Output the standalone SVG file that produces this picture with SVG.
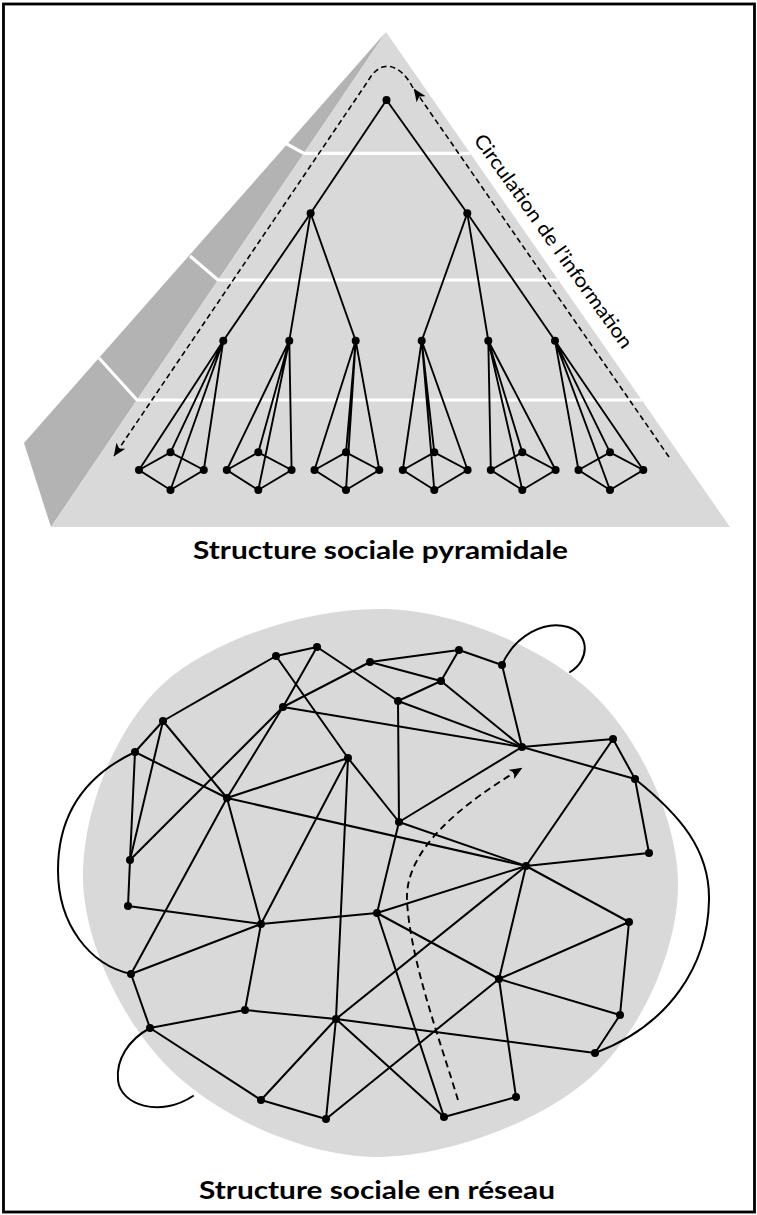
<svg xmlns="http://www.w3.org/2000/svg" width="757" height="1215" viewBox="0 0 757 1215">
<style>
.e{stroke:#000;stroke-width:2;fill:none;stroke-linecap:round}
.t{stroke:#000;stroke-width:1.9;fill:none}
.n{fill:#000}
.w{stroke:#fff;stroke-width:3.2;fill:none}
.d{stroke:#000;stroke-width:1.6;fill:none;stroke-dasharray:5.5 3.5}
.title{font-family:Lato,"Noto Sans",sans-serif;font-weight:bold;font-size:24px;fill:#000}
.lab{font-family:Lato,"Noto Sans",sans-serif;font-size:19.5px;fill:#000}
</style>
<defs>
<marker id="arr" viewBox="0 0 12 10" refX="11.5" refY="5" markerWidth="13" markerHeight="11" markerUnits="userSpaceOnUse" orient="auto">
<path d="M0,0 L12,5 L0,10 L3,5 z" fill="#000"/>
</marker>
</defs>
<rect x="3.5" y="4" width="751" height="1208" fill="#fff" stroke="#000" stroke-width="2.8"/>

<!-- Pyramid -->
<g id="pyramid">
<polygon points="386,32 24,443 51,527" fill="#b3b3b3"/>
<polygon points="386,32 51,527 730,527" fill="#d9d9d9"/>
<path class="w" d="M285,143 L304,153.3 L470,153.3"/>
<path class="w" d="M190,256 L218,280 L558,280"/>
<path class="w" d="M99,358 L137,400 L642,400"/>
</g>

<g id="pyramid-connectors">
<line class="t" x1="386.5" y1="100" x2="310.6" y2="213.3"/>
<line class="t" x1="386.5" y1="100" x2="467.3" y2="213.3"/>
<line class="t" x1="310.6" y1="213.3" x2="223.3" y2="340.7"/>
<line class="t" x1="310.6" y1="213.3" x2="289.3" y2="340.7"/>
<line class="t" x1="310.6" y1="213.3" x2="355.7" y2="340.7"/>
<line class="t" x1="467.3" y1="213.3" x2="421.7" y2="340.7"/>
<line class="t" x1="467.3" y1="213.3" x2="488.3" y2="340.7"/>
<line class="t" x1="467.3" y1="213.3" x2="555" y2="340.7"/>
<g id="cl1"><path class="t" d="M223.3,340.7 L139,470 M223.3,340.7 L170.5,452.3 M223.3,340.7 L170.5,490 M223.3,340.7 L203.8,470 M139,470 L170.5,452.3 L203.8,470 L170.5,490 Z"/></g>
<g id="cl2"><path class="t" d="M289.3,340.7 L226.8,470 M289.3,340.7 L258.3,452.3 M289.3,340.7 L258.3,490 M289.3,340.7 L291.6,470 M226.8,470 L258.3,452.3 L291.6,470 L258.3,490 Z"/></g>
<g id="cl3"><path class="t" d="M355.7,340.7 L314.5,470 M355.7,340.7 L346,452.3 M355.7,340.7 L346,490 M355.7,340.7 L379.3,470 M314.5,470 L346,452.3 L379.3,470 L346,490 Z"/></g>
<g id="cl4"><path class="t" d="M421.7,340.7 L402.8,470 M421.7,340.7 L434.3,452.3 M421.7,340.7 L434.3,490 M421.7,340.7 L467.6,470 M402.8,470 L434.3,452.3 L467.6,470 L434.3,490 Z"/></g>
<g id="cl5"><path class="t" d="M488.3,340.7 L490.8,470 M488.3,340.7 L522.3,452.3 M488.3,340.7 L522.3,490 M488.3,340.7 L555.6,470 M490.8,470 L522.3,452.3 L555.6,470 L522.3,490 Z"/></g>
<g id="cl6"><path class="t" d="M555,340.7 L578.5,470 M555,340.7 L610,452.3 M555,340.7 L610,490 M555,340.7 L643.3,470 M578.5,470 L610,452.3 L643.3,470 L610,490 Z"/></g>
<path class="d" d="M669,457 L414,89" marker-end="url(#arr)"/>
<path class="d" d="M413,88 C402,66 382,56 368,81 L114,456" marker-end="url(#arr)"/>
</g>

<g id="pyramid-nodes">
<g id="p0"><circle class="n" cx="386.5" cy="100" r="4"/></g>
<g id="p1"><circle class="n" cx="310.6" cy="213.3" r="4"/></g>
<g id="p2"><circle class="n" cx="467.3" cy="213.3" r="4"/></g>
<g id="p3"><circle class="n" cx="223.3" cy="340.7" r="4"/></g>
<g id="p4"><circle class="n" cx="289.3" cy="340.7" r="4"/></g>
<g id="p5"><circle class="n" cx="355.7" cy="340.7" r="4"/></g>
<g id="p6"><circle class="n" cx="421.7" cy="340.7" r="4"/></g>
<g id="p7"><circle class="n" cx="488.3" cy="340.7" r="4"/></g>
<g id="p8"><circle class="n" cx="555" cy="340.7" r="4"/></g>
<g id="c1"><circle class="n" cx="139" cy="470" r="4"/><circle class="n" cx="170.5" cy="452.3" r="4"/><circle class="n" cx="203.8" cy="470" r="4"/><circle class="n" cx="170.5" cy="490" r="4"/></g>
<g id="c2"><circle class="n" cx="226.8" cy="470" r="4"/><circle class="n" cx="258.3" cy="452.3" r="4"/><circle class="n" cx="291.6" cy="470" r="4"/><circle class="n" cx="258.3" cy="490" r="4"/></g>
<g id="c3"><circle class="n" cx="314.5" cy="470" r="4"/><circle class="n" cx="346" cy="452.3" r="4"/><circle class="n" cx="379.3" cy="470" r="4"/><circle class="n" cx="346" cy="490" r="4"/></g>
<g id="c4"><circle class="n" cx="402.8" cy="470" r="4"/><circle class="n" cx="434.3" cy="452.3" r="4"/><circle class="n" cx="467.6" cy="470" r="4"/><circle class="n" cx="434.3" cy="490" r="4"/></g>
<g id="c5"><circle class="n" cx="490.8" cy="470" r="4"/><circle class="n" cx="522.3" cy="452.3" r="4"/><circle class="n" cx="555.6" cy="470" r="4"/><circle class="n" cx="522.3" cy="490" r="4"/></g>
<g id="c6"><circle class="n" cx="578.5" cy="470" r="4"/><circle class="n" cx="610" cy="452.3" r="4"/><circle class="n" cx="643.3" cy="470" r="4"/><circle class="n" cx="610" cy="490" r="4"/></g>
</g>

<text class="lab" transform="translate(473,140) rotate(54.5)" textLength="258" lengthAdjust="spacingAndGlyphs">Circulation de l’information</text>
<text class="title" x="380.5" y="558.5" text-anchor="middle" textLength="375" lengthAdjust="spacingAndGlyphs">Structure sociale pyramidale</text>

<!-- Network -->
<g id="network-bg">
<path d="M383,609 C454.2,610.5 541.8,646 591,692 C640.2,738 678,820.8 678,885 C678,949.2 641.5,1031.7 591,1077 C540.5,1122.3 444.7,1157.8 375,1157 C305.3,1156.2 221.7,1118.2 173,1072 C124.3,1025.8 84.5,944.8 83,880 C81.5,815.2 114,728.2 164,683 C214,637.8 311.8,607.5 383,609 Z" fill="#d9d9d9"/>
</g>

<g id="network-connectors">
<line class="e" x1="276" y1="656" x2="317" y2="647"/>
<line class="e" x1="276" y1="656" x2="163" y2="721"/>
<line class="e" x1="276" y1="656" x2="348" y2="758"/>
<line class="e" x1="317" y1="647" x2="283" y2="707"/>
<line class="e" x1="317" y1="647" x2="398" y2="701"/>
<line class="e" x1="370" y1="662" x2="283" y2="707"/>
<line class="e" x1="370" y1="662" x2="459" y2="650"/>
<line class="e" x1="370" y1="662" x2="441" y2="681"/>
<line class="e" x1="283" y1="707" x2="522" y2="747"/>
<line class="e" x1="283" y1="707" x2="130" y2="860"/>
<line class="e" x1="283" y1="707" x2="227" y2="798"/>
<line class="e" x1="163" y1="721" x2="135" y2="752"/>
<line class="e" x1="163" y1="721" x2="130" y2="860"/>
<line class="e" x1="163" y1="721" x2="227" y2="798"/>
<line class="e" x1="135" y1="752" x2="130" y2="860"/>
<line class="e" x1="135" y1="752" x2="227" y2="798"/>
<path class="e" d="M135,752 C80,778 58,820 58,870 C58,925 90,965 131,974"/>
<line class="e" x1="348" y1="758" x2="227" y2="798"/>
<line class="e" x1="348" y1="758" x2="261" y2="924"/>
<line class="e" x1="348" y1="758" x2="336" y2="1019"/>
<line class="e" x1="348" y1="758" x2="399" y2="822"/>
<line class="e" x1="227" y1="798" x2="526" y2="866"/>
<line class="e" x1="227" y1="798" x2="131" y2="974"/>
<line class="e" x1="227" y1="798" x2="261" y2="924"/>
<line class="e" x1="130" y1="860" x2="128" y2="906"/>
<line class="e" x1="128" y1="906" x2="261" y2="924"/>
<line class="e" x1="459" y1="650" x2="502" y2="665"/>
<line class="e" x1="459" y1="650" x2="441" y2="681"/>
<line class="e" x1="502" y1="665" x2="522" y2="747"/>
<path class="e" d="M502,665 C515,635 545,620 568,627 C590,634 590,660 570,672"/>
<line class="e" x1="441" y1="681" x2="398" y2="701"/>
<line class="e" x1="441" y1="681" x2="522" y2="747"/>
<line class="e" x1="398" y1="701" x2="522" y2="747"/>
<line class="e" x1="398" y1="701" x2="399" y2="822"/>
<line class="e" x1="522" y1="747" x2="613" y2="739"/>
<line class="e" x1="522" y1="747" x2="635" y2="779"/>
<line class="e" x1="522" y1="747" x2="399" y2="822"/>
<line class="e" x1="613" y1="739" x2="635" y2="779"/>
<line class="e" x1="613" y1="739" x2="526" y2="866"/>
<line class="e" x1="635" y1="779" x2="649" y2="853"/>
<path class="e" d="M635,779 C680,815 710,850 709,900 C708,965 670,1025 595,1053"/>
<line class="e" x1="399" y1="822" x2="526" y2="866"/>
<line class="e" x1="399" y1="822" x2="377" y2="913"/>
<line class="e" x1="526" y1="866" x2="649" y2="853"/>
<line class="e" x1="526" y1="866" x2="336" y2="1019"/>
<line class="e" x1="526" y1="866" x2="499" y2="979"/>
<line class="e" x1="526" y1="866" x2="629" y2="922"/>
<line class="e" x1="526" y1="866" x2="377" y2="913"/>
<line class="e" x1="261" y1="924" x2="377" y2="913"/>
<line class="e" x1="261" y1="924" x2="131" y2="974"/>
<line class="e" x1="261" y1="924" x2="245" y2="1010"/>
<line class="e" x1="377" y1="913" x2="499" y2="979"/>
<line class="e" x1="377" y1="913" x2="444" y2="1117"/>
<line class="e" x1="131" y1="974" x2="150" y2="1028"/>
<line class="e" x1="150" y1="1028" x2="245" y2="1010"/>
<line class="e" x1="150" y1="1028" x2="261" y2="1100"/>
<path class="e" d="M150,1028 C128,1040 116,1060 118,1080 C120,1105 160,1118 193,1096"/>
<line class="e" x1="245" y1="1010" x2="336" y2="1019"/>
<line class="e" x1="336" y1="1019" x2="261" y2="1100"/>
<line class="e" x1="336" y1="1019" x2="326" y2="1119"/>
<line class="e" x1="336" y1="1019" x2="444" y2="1117"/>
<line class="e" x1="336" y1="1019" x2="595" y2="1053"/>
<line class="e" x1="261" y1="1100" x2="326" y2="1119"/>
<line class="e" x1="326" y1="1119" x2="499" y2="979"/>
<line class="e" x1="629" y1="922" x2="499" y2="979"/>
<line class="e" x1="629" y1="922" x2="620" y2="1015"/>
<line class="e" x1="499" y1="979" x2="620" y2="1015"/>
<line class="e" x1="499" y1="979" x2="516" y2="1097"/>
<line class="e" x1="620" y1="1015" x2="595" y2="1053"/>
<line class="e" x1="516" y1="1097" x2="444" y2="1117"/>
<path class="d" style="stroke-width:1.9;stroke-dasharray:7 4.5" d="M458,1100 C440,1040 410,960 407,900 C405,850 460,805 522,768" marker-end="url(#arr)"/>
</g>

<g id="network-nodes">
<g id="nA"><circle class="n" cx="276" cy="656" r="4"/></g>
<g id="nB"><circle class="n" cx="317" cy="647" r="4"/></g>
<g id="nC"><circle class="n" cx="370" cy="662" r="4"/></g>
<g id="nD"><circle class="n" cx="283" cy="707" r="4"/></g>
<g id="nE"><circle class="n" cx="163" cy="721" r="4"/></g>
<g id="nF"><circle class="n" cx="135" cy="752" r="4"/></g>
<g id="nG"><circle class="n" cx="348" cy="758" r="4"/></g>
<g id="nH"><circle class="n" cx="227" cy="798" r="4"/></g>
<g id="nI"><circle class="n" cx="130" cy="860" r="4"/></g>
<g id="nJ"><circle class="n" cx="128" cy="906" r="4"/></g>
<g id="nK"><circle class="n" cx="459" cy="650" r="4"/></g>
<g id="nL"><circle class="n" cx="502" cy="665" r="4"/></g>
<g id="nM"><circle class="n" cx="441" cy="681" r="4"/></g>
<g id="nN"><circle class="n" cx="398" cy="701" r="4"/></g>
<g id="nO"><circle class="n" cx="522" cy="747" r="4"/></g>
<g id="nP"><circle class="n" cx="613" cy="739" r="4"/></g>
<g id="nQ"><circle class="n" cx="635" cy="779" r="4"/></g>
<g id="nR"><circle class="n" cx="399" cy="822" r="4"/></g>
<g id="nS"><circle class="n" cx="526" cy="866" r="4"/></g>
<g id="nT"><circle class="n" cx="649" cy="853" r="4"/></g>
<g id="nU"><circle class="n" cx="261" cy="924" r="4"/></g>
<g id="nV"><circle class="n" cx="377" cy="913" r="4"/></g>
<g id="nW"><circle class="n" cx="131" cy="974" r="4"/></g>
<g id="nX"><circle class="n" cx="150" cy="1028" r="4"/></g>
<g id="nY"><circle class="n" cx="245" cy="1010" r="4"/></g>
<g id="nZ"><circle class="n" cx="336" cy="1019" r="4"/></g>
<g id="nAA"><circle class="n" cx="261" cy="1100" r="4"/></g>
<g id="nAB"><circle class="n" cx="326" cy="1119" r="4"/></g>
<g id="nAC"><circle class="n" cx="629" cy="922" r="4"/></g>
<g id="nAD"><circle class="n" cx="499" cy="979" r="4"/></g>
<g id="nAE"><circle class="n" cx="620" cy="1015" r="4"/></g>
<g id="nAF"><circle class="n" cx="595" cy="1053" r="4"/></g>
<g id="nAG"><circle class="n" cx="516" cy="1097" r="4"/></g>
<g id="nAH"><circle class="n" cx="444" cy="1117" r="4"/></g>
</g>

<text class="title" x="377" y="1199" text-anchor="middle" textLength="356" lengthAdjust="spacingAndGlyphs">Structure sociale en réseau</text>
</svg>
